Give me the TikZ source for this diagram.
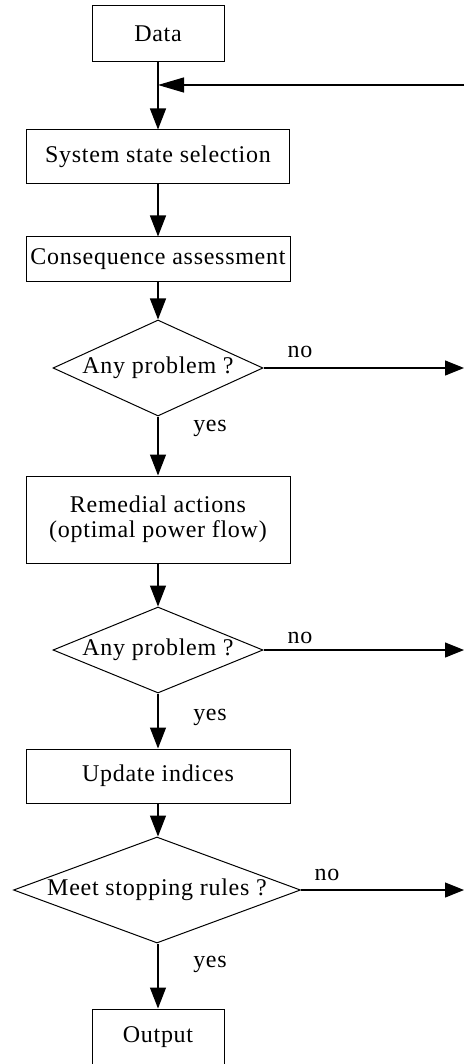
\documentclass[tikz,border=0pt]{standalone}
\usepackage{fontspec}
\setmainfont[LetterSpace=3]{Liberation Serif}
\usetikzlibrary{shapes.geometric,arrows.meta}
\begin{document}
\begin{tikzpicture}[x=1pt,y=-1pt,
  every node/.style={font=\fontsize{24}{25}\selectfont},
  box/.style={draw, line width=1pt, inner sep=0pt, align=center},
  decision/.style={draw, diamond, line width=1pt, inner sep=-6pt},
  down/.style={line width=1.3pt, -{Triangle[length=21pt,width=16pt]}},
  right/.style={line width=1.2pt, -{Triangle[length=19pt,width=15pt]}},
  back/.style={line width=1.2pt, -{Triangle[length=26pt,width=15pt]}},
  lbl/.style={inner sep=0pt}]
\useasboundingbox (0,0) rectangle (464,1064);
\clip (0,0) rectangle (464,1064);

% process steps
\node[box, minimum width=132pt, minimum height=56pt] (data) at (158,34) {Data};
\node[box, minimum width=263pt, minimum height=54pt] (select) at (158,157) {System state selection};
\node[box, minimum width=264pt, minimum height=45pt] (conseq) at (158,259.5) {Consequence assessment};
\node[decision, minimum width=210pt, minimum height=96pt, aspect=2.19] (dec1) at (158,368) {Any problem ?};
\node[box, minimum width=264pt, minimum height=87pt] (remedy) at (158,519.5) {Remedial actions\\(optimal power flow)};
\node[decision, minimum width=210pt, minimum height=86pt, aspect=2.44] (dec2) at (158,650) {Any problem ?};
\node[box, minimum width=264pt, minimum height=54pt] (update) at (158,776) {Update indices};
\node[decision, minimum width=287pt, minimum height=106pt, aspect=2.71] (dec3) at (157,890) {Meet stopping rules ?};
\node[box, minimum width=132pt, minimum height=56pt] (output) at (158,1037) {Output};

% loose ends of the loop-back and exit arrows
\coordinate (loopin) at (464,85);
\coordinate (merge) at (158,85);
\coordinate (exit1) at (464,368);
\coordinate (exit2) at (464,650);
\coordinate (exit3) at (464,890);

% main flow
\draw[down] (data) -- (select);
\draw[back] (loopin) -- (merge);
\draw[down] (select) -- (conseq);
\draw[down] (conseq) -- (dec1);
\draw[down] (dec1) -- (remedy);
\draw[down] (remedy) -- (dec2);
\draw[down] (dec2) -- (update);
\draw[down] (update.south) -- (dec3.north -| update.south);
\draw[down] (dec3.south -| output.north) -- (output);

% exits to the right
\draw[right] (dec1.east) -- (exit1);
\draw[right] (dec2.east) -- (exit2);
\draw[right] (dec3.east) -- (exit3);

% branch labels
\node[lbl] (no1) at (300,352) {no};
\node[lbl] (yes1) at (210,428) {yes};
\node[lbl] (no2) at (300,638) {no};
\node[lbl] (yes2) at (210,717) {yes};
\node[lbl] (no3) at (327,875) {no};
\node[lbl] (yes3) at (210,964) {yes};
\end{tikzpicture}
\end{document}
